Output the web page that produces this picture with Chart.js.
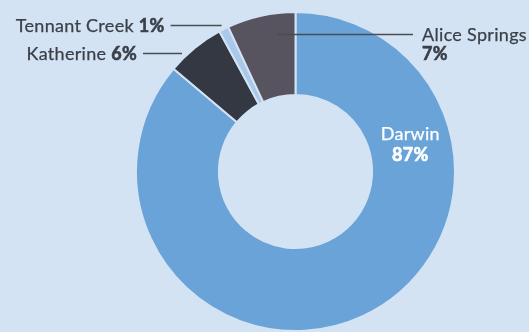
<!DOCTYPE html>
<html>
<head>
<meta charset="utf-8">
<script src="https://cdn.jsdelivr.net/npm/chart.js@4"></script>
<style>
  html, body { margin: 0; padding: 0; background: #d3e3f3; }
  #wrap { width: 529px; height: 332px; position: relative; }
</style>
</head>
<body>
<div id="wrap"><canvas id="regionChart"></canvas></div>
<script>
const regions = ['Darwin', 'Katherine', 'Tennant Creek', 'Alice Springs'];
const shares = [87, 6, 1, 7];

const BG = '#d3e3f3';
const SLICE_COLORS = ['#6aa3d7', '#343843', '#a9c9ea', '#57545f'];
const TEXT_COLOR = '#3b3f48';
const FONT = 'Lato, "Open Sans", sans-serif';
const FONT_SIZE = 18;

// where each label sits: frac = position along the slice, r = fraction of outer radius
const labelSpots = [
    { type: 'inside', frac: 0.247, r: 0.72, color: '#ffffff' },
    { type: 'left', frac: 0.29, r: 1.03, len: 39 },
    { type: 'left', frac: 0.5, r: 1.03, len: 51 },
    { type: 'right', frac: 0.71, r: 0.87, len: 135 }
];

function setFont(ctx, bold) {
    ctx.font = (bold ? 'bold ' : '') + FONT_SIZE + 'px ' + FONT;
    ctx.letterSpacing = '0.3px';
}

// draws a run of regular/bold pieces on one baseline
function drawMixed(ctx, parts, x, y, align) {
    let total = 0;
    parts.forEach(p => {
        setFont(ctx, p.bold);
        p.w = ctx.measureText(p.text).width;
        total += p.w;
    });
    let cx = align === 'right' ? x - total : (align === 'center' ? x - total / 2 : x);
    ctx.textAlign = 'left';
    ctx.strokeStyle = ctx.fillStyle;
    parts.forEach(p => {
        setFont(ctx, p.bold);
        ctx.lineWidth = p.bold ? 0.6 : 0.25;
        ctx.fillText(p.text, cx, y);
        ctx.strokeText(p.text, cx, y);
        cx += p.w;
    });
}

const sliceLabels = {
    id: 'sliceLabels',
    afterDatasetsDraw(chart) {
        const ctx = chart.ctx;
        const arcs = chart.getDatasetMeta(0).data;
        ctx.save();
        ctx.textBaseline = 'middle';
        arcs.forEach((arc, i) => {
            const spot = labelSpots[i];
            const a = arc.startAngle + (arc.endAngle - arc.startAngle) * spot.frac;
            const pct = shares[i] + '%';
            if (spot.type === 'inside') {
                const r = arc.innerRadius + (arc.outerRadius - arc.innerRadius) * 0.5;
                const x = arc.x + r * Math.cos(a);
                const y = arc.y + r * Math.sin(a);
                ctx.fillStyle = spot.color;
                drawMixed(ctx, [{ text: regions[i] }], x, y - 10, 'center');
                drawMixed(ctx, [{ text: pct, bold: true }], x, y + 11, 'center');
                return;
            }
            const r = arc.outerRadius * spot.r;
            const x0 = arc.x + r * Math.cos(a);
            const y0 = Math.round(arc.y + r * Math.sin(a)) + 0.5;
            const dir = spot.type === 'left' ? -1 : 1;
            const x1 = x0 + dir * spot.len;
            ctx.strokeStyle = '#474c55';
            ctx.lineWidth = 1.3;
            ctx.beginPath();
            ctx.moveTo(x0, y0);
            ctx.lineTo(x1, y0);
            ctx.stroke();
            ctx.fillStyle = TEXT_COLOR;
            if (spot.type === 'left') {
                drawMixed(ctx, [{ text: regions[i] + ' ' }, { text: pct, bold: true }], x1 - 6, y0 + 1, 'right');
            } else {
                drawMixed(ctx, [{ text: regions[i] }], x1 + 9, y0 + 1, 'left');
                drawMixed(ctx, [{ text: pct, bold: true }], x1 + 9, y0 + 20, 'left');
            }
        });
        ctx.restore();
    }
};

new Chart(document.getElementById('regionChart'), {
    type: 'doughnut',
    data: {
        labels: regions,
        datasets: [{
            data: shares,
            backgroundColor: SLICE_COLORS,
            borderColor: BG,
            borderWidth: 2
        }]
    },
    options: {
        responsive: true,
        maintainAspectRatio: false,
        animation: false,
        cutout: '48%',
        layout: { padding: { left: 135, right: 73, top: 11, bottom: 0 } },
        plugins: {
            legend: { display: false },
            tooltip: { enabled: false }
        }
    },
    plugins: [sliceLabels]
});
</script>
</body>
</html>
